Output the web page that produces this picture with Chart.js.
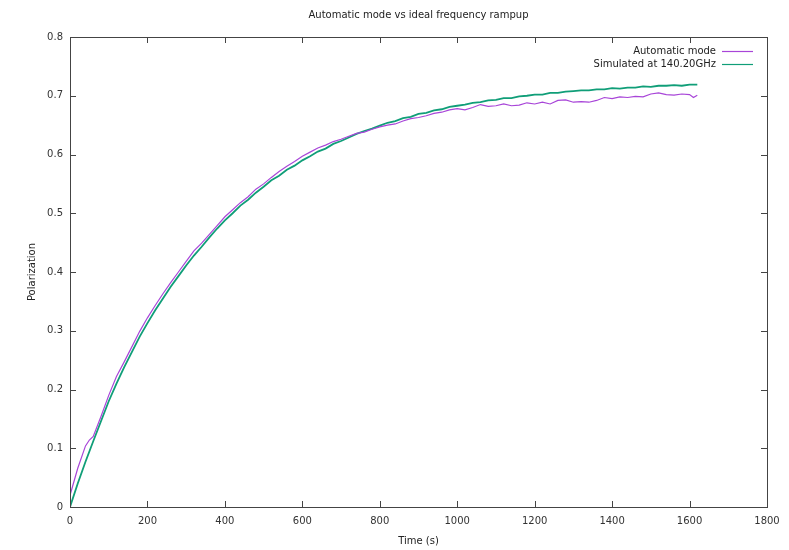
<!DOCTYPE html>
<html>
<head>
<meta charset="utf-8">
<title>Automatic mode vs ideal frequency rampup</title>
<script src="https://cdn.jsdelivr.net/npm/chart.js@4.4.1/dist/chart.umd.min.js"></script>
<style>
    body { margin: 0; background: #fff; }
    canvas { display: block; }
</style>
</head>
<body>
<canvas id="graph_zone" width="789" height="550"></canvas>
<script>
// values
const autoTime = [0, 20, 40, 50, 60, 80, 100, 120, 140, 160, 180, 200, 220, 240, 260, 280, 300, 320, 340, 360,
    380, 400, 420, 440, 460, 480, 500, 520, 540, 560, 580, 600, 620, 640, 660, 680, 700, 720, 740, 760,
    780, 800, 820, 840, 860, 880, 900, 920, 940, 960, 980, 1000, 1020, 1040, 1060, 1080, 1100, 1120, 1140, 1160,
    1180, 1200, 1220, 1240, 1260, 1280, 1300, 1320, 1340, 1360, 1380, 1400, 1420, 1440, 1460, 1480, 1500, 1520, 1540, 1560,
    1580, 1600, 1610, 1620];
const autoPol = [0.020, 0.066, 0.104, 0.114, 0.120, 0.154, 0.190, 0.222, 0.247, 0.273, 0.299, 0.322, 0.343, 0.363, 0.382, 0.400, 0.418, 0.436, 0.449, 0.464,
    0.479, 0.494, 0.506, 0.518, 0.528, 0.541, 0.550, 0.561, 0.571, 0.580, 0.588, 0.597, 0.604, 0.611, 0.616, 0.622, 0.626, 0.631, 0.636, 0.638,
    0.643, 0.647, 0.650, 0.652, 0.657, 0.661, 0.663, 0.666, 0.670, 0.672, 0.676, 0.678, 0.676, 0.680, 0.685, 0.682, 0.683, 0.686, 0.683, 0.684,
    0.688, 0.686, 0.689, 0.686, 0.692, 0.693, 0.689, 0.690, 0.689, 0.692, 0.697, 0.695, 0.698, 0.697, 0.699, 0.698, 0.703, 0.705, 0.702, 0.701,
    0.703, 0.702, 0.697, 0.701];

const simTime = [0, 20, 40, 60, 80, 100, 120, 140, 160, 180, 200, 220, 240, 260, 280, 300, 320, 340, 360, 380,
    400, 420, 440, 460, 480, 500, 520, 540, 560, 580, 600, 620, 640, 660, 680, 700, 720, 740, 760, 780,
    800, 820, 840, 860, 880, 900, 920, 940, 960, 980, 1000, 1020, 1040, 1060, 1080, 1100, 1120, 1140, 1160, 1180,
    1200, 1220, 1240, 1260, 1280, 1300, 1320, 1340, 1360, 1380, 1400, 1420, 1440, 1460, 1480, 1500, 1520, 1540, 1560, 1580,
    1600, 1620];
const simPol = [0.000, 0.040, 0.077, 0.112, 0.146, 0.180, 0.210, 0.238, 0.264, 0.290, 0.313, 0.335, 0.355, 0.375, 0.393, 0.411, 0.428, 0.443, 0.459, 0.474,
    0.488, 0.500, 0.513, 0.523, 0.535, 0.545, 0.556, 0.564, 0.574, 0.581, 0.590, 0.597, 0.605, 0.610, 0.618, 0.623, 0.629, 0.635, 0.640, 0.644,
    0.649, 0.654, 0.657, 0.662, 0.664, 0.669, 0.671, 0.675, 0.677, 0.681, 0.683, 0.685, 0.688, 0.689, 0.692, 0.693, 0.696, 0.696, 0.699, 0.700,
    0.702, 0.702, 0.705, 0.705, 0.707, 0.708, 0.709, 0.709, 0.711, 0.711, 0.713, 0.712, 0.714, 0.714, 0.716, 0.715, 0.717, 0.717, 0.718, 0.717,
    0.719, 0.719];

const seriesNames = ['Automatic mode', 'Simulated at 140.20GHz'];
const seriesColors = ['#a845d8', '#109e78'];

const FONT = 'DejaVu Sans';

function toPoints(xs, ys) {
    return xs.map((x, i) => ({ x: x, y: ys[i] }));
}

// gnuplot style frame: box with inward ticks on all four sides, legend inside top right
const framePlugin = {
    id: 'frame',
    afterDatasetsDraw(chart) {
        const ctx = chart.ctx;
        const a = chart.chartArea;
        const xs = chart.scales.x;
        const ys = chart.scales.y;
        const tick = 6;
        ctx.save();
        ctx.strokeStyle = '#444';
        ctx.lineWidth = 1;
        ctx.strokeRect(a.left + 0.5, a.top + 0.5, a.right - a.left, a.bottom - a.top);
        ctx.beginPath();
        xs.ticks.forEach(t => {
            const px = Math.round(xs.getPixelForValue(t.value)) + 0.5;
            ctx.moveTo(px, a.bottom); ctx.lineTo(px, a.bottom - tick);
            ctx.moveTo(px, a.top); ctx.lineTo(px, a.top + tick);
        });
        ys.ticks.forEach(t => {
            const py = Math.round(ys.getPixelForValue(t.value)) + 0.5;
            ctx.moveTo(a.left, py); ctx.lineTo(a.left + tick, py);
            ctx.moveTo(a.right, py); ctx.lineTo(a.right - tick, py);
        });
        ctx.stroke();

        ctx.font = '10px "' + FONT + '"';
        ctx.textAlign = 'right';
        ctx.textBaseline = 'middle';
        chart.data.datasets.forEach((ds, i) => {
            const y = 51 + i * 13;
            ctx.fillStyle = '#222';
            ctx.fillText(ds.label, 716, y);
            ctx.strokeStyle = ds.borderColor;
            ctx.lineWidth = 1.2;
            ctx.beginPath();
            ctx.moveTo(722, y + 0.5);
            ctx.lineTo(753, y + 0.5);
            ctx.stroke();
        });
        ctx.restore();
    }
};

let graph = document.querySelector('#graph_zone').getContext('2d');

let myChart = new Chart(graph, {
    type: 'line',
    plugins: [framePlugin],
    data: {
        datasets: [{
            label: seriesNames[0],
            data: toPoints(autoTime, autoPol),
            borderColor: seriesColors[0],
            borderWidth: 1.2,
            pointRadius: 0,
            tension: 0,
            fill: false
        },
        {
            label: seriesNames[1],
            data: toPoints(simTime, simPol),
            borderColor: seriesColors[1],
            borderWidth: 1.8,
            pointRadius: 0,
            tension: 0,
            fill: false
        }]
    },
    options: {
        responsive: false,
        animation: false,
        color: '#222',
        font: { family: FONT, size: 10 },
        layout: { padding: { left: 0, right: 22, top: 0, bottom: 0 } },
        plugins: {
            legend: { display: false },
            tooltip: { enabled: false },
            title: {
                display: true,
                text: 'Automatic mode vs ideal frequency rampup',
                fullSize: false,
                color: '#222',
                font: { family: FONT, size: 10, weight: 'normal' },
                padding: { top: 9, bottom: 16 }
            }
        },
        scales: {
            x: {
                type: 'linear',
                min: 0,
                max: 1800,
                afterFit: s => { s.height = 43; },
                grid: { display: false, drawTicks: false },
                border: { display: false },
                ticks: {
                    stepSize: 200,
                    padding: 8,
                    maxRotation: 0,
                    color: '#333',
                    font: { family: FONT, size: 10 },
                    callback: v => String(v)
                },
                title: {
                    display: true,
                    text: 'Time (s)',
                    color: '#222',
                    font: { family: FONT, size: 10 },
                    padding: { top: 0, bottom: 3 }
                }
            },
            y: {
                min: 0,
                max: 0.8,
                afterFit: s => { s.width = 70; },
                grid: { display: false, drawTicks: false },
                border: { display: false },
                ticks: {
                    stepSize: 0.1,
                    padding: 7,
                    color: '#333',
                    font: { family: FONT, size: 10 },
                    callback: v => v === 0 ? '0' : v.toFixed(1)
                },
                title: {
                    display: true,
                    text: 'Polarization',
                    color: '#222',
                    font: { family: FONT, size: 10 },
                    padding: { top: 26, bottom: 0 }
                }
            }
        }
    }
});
</script>
</body>
</html>
